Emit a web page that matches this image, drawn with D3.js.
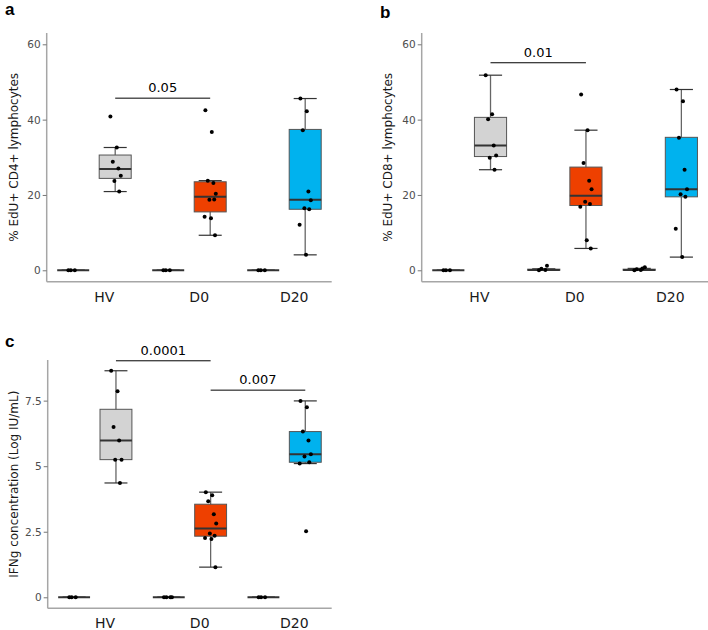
<!DOCTYPE html>
<html>
<head>
<meta charset="utf-8">
<script src="https://cdn.jsdelivr.net/npm/d3@7"></script>
<style>
  body { margin: 0; background: #fff; }
  svg { display: block; font-family: "DejaVu Sans", Verdana, sans-serif; }
</style>
</head>
<body>
<script>
const groups = ["HV", "D0", "D20"];
const fills = ["#d3d3d3", "#ee4000", "#00b2ee"];

// a: % EdU+ CD4+ lymphocytes
const cd4Zero = [[0, 0, 0], [0, 0, 0], [0, 0, 0]];
const cd4ZeroBox = [[0, 0, 0, 0, 0], [0, 0, 0, 0, 0], [0, 0, 0, 0, 0]];
const cd4Stim = [
    [40.8, 32.6, 28.8, 27.0, 25.1, 23.7, 20.9],
    [42.5, 36.7, 23.8, 23.2, 20.3, 18.7, 18.8, 14.2, 13.8, 9.3],
    [45.6, 42.2, 37.2, 20.9, 18.6, 16.5, 16.2, 12.1, 4.1]
];
// [low whisker, q1, median, q3, high whisker]
const cd4Box = [[20.9, 24.4, 26.9, 30.6, 32.6], [9.3, 15.5, 19.5, 23.5, 23.8], [4.1, 16.2, 18.7, 37.4, 45.6]];
const cd4Sig = [["HV", "D0", 45.7, "0.05"]];

// b: % EdU+ CD8+ lymphocytes
const cd8Zero = [[0, 0, 0], [0, 0.1, 0.4, 1.2], [0, 0.1, 0.3, 0.5, 0.8]];
const cd8ZeroBox = [[0, 0, 0, 0, 0], [0, 0, 0.1, 0.3, 0.4], [0, 0, 0.1, 0.3, 0.5]];
const cd8Stim = [
    [51.8, 41.4, 40.1, 33.1, 30.5, 29.9, 26.7],
    [46.7, 37.2, 28.5, 23.8, 21.5, 18.2, 17.6, 16.9, 8.0, 5.8],
    [48.0, 44.9, 35.2, 26.7, 21.5, 20.2, 19.5, 11.0, 3.5]
];
const cd8Box = [[26.7, 30.2, 33.1, 40.6, 51.8], [5.8, 17.2, 19.8, 27.4, 37.2], [3.5, 19.5, 21.5, 35.3, 48.0]];
const cd8Sig = [["HV", "D0", 55.1, "0.01"]];

// c: IFNg concentration
const ifnZero = [[0, 0, 0], [0, 0, 0, 0], [0, 0, 0]];
const ifnZeroBox = [[0, 0, 0, 0, 0], [0, 0, 0, 0, 0], [0, 0, 0, 0, 0]];
const ifnStim = [
    [8.64, 7.86, 6.49, 5.98, 5.25, 5.25, 4.36],
    [4.01, 3.89, 3.66, 3.17, 2.81, 2.43, 2.35, 2.26, 2.22, 1.15],
    [7.49, 7.25, 6.32, 5.98, 5.46, 5.37, 5.15, 5.10, 2.52]
];
const ifnBox = [[4.36, 5.25, 5.98, 7.17, 8.64], [1.15, 2.33, 2.62, 3.55, 4.01], [5.10, 5.15, 5.46, 6.32, 7.49]];
const ifnSig = [["HV", "D0", 9.02, "0.0001"], ["D0", "D20", 7.9, "0.007"]];

const ticksAB = [0, 20, 40, 60];
const ticksC = [0, 2.5, 5, 7.5];
const tickLabelsC = ["0", "2.5", "5", "7.5"];

// fixed spread pattern for the dots (fraction of half box)
const spread = [-0.3, 0.1, -0.15, 0.2, 0.35, -0.05, 0.25, -0.35, 0.05, 0.3];

const svg = d3.select("body").append("svg")
    .attr("width", 708)
    .attr("height", 630);

function panel(o) {
    const g = svg.append("g");

    const x = d3.scaleBand()
        .domain(groups)
        .range([o.left, o.right]);

    const sub = d3.scaleBand()
        .domain(["zero", "stim"])
        .range([0, x.bandwidth()])
        .paddingInner(0.238)
        .paddingOuter(0.25);

    const y = d3.scaleLinear()
        .domain(o.domain)
        .range([o.bottom, o.top]);

    const bw = sub.bandwidth();
    const cx = (grp, s) => x(grp) + sub(s) + bw / 2;

    // axes
    g.append("line")
        .attr("x1", o.left).attr("x2", o.left)
        .attr("y1", o.top).attr("y2", o.bottom)
        .attr("stroke", "#a6a6a6").attr("stroke-width", 1.5);
    g.append("line")
        .attr("x1", o.left).attr("x2", o.right)
        .attr("y1", o.bottom).attr("y2", o.bottom)
        .attr("stroke", "#a6a6a6").attr("stroke-width", 1.5);

    const yAxis = g.append("g")
        .attr("transform", "translate(" + o.left + ",0)")
        .call(d3.axisLeft(y).tickValues(o.ticks).tickFormat((d, i) => o.tickLabels[i]).tickSize(4).tickPadding(2));
    yAxis.select(".domain").remove();
    yAxis.selectAll(".tick line").attr("stroke", "#777");
    yAxis.selectAll(".tick text")
        .attr("fill", "#4d4d4d")
        .attr("font-size", "10.5px")
        .attr("font-family", "DejaVu Sans, sans-serif");

    const xAxis = g.append("g")
        .attr("transform", "translate(0," + o.bottom + ")")
        .call(d3.axisBottom(x).tickSize(0).tickPadding(10));
    xAxis.select(".domain").remove();
    xAxis.selectAll(".tick text")
        .attr("fill", "#1a1a1a")
        .attr("dx", 10)
        .attr("font-size", "14px")
        .attr("font-family", "DejaVu Sans, sans-serif");

    // y title
    g.append("text")
        .attr("transform", "translate(" + o.titleX + "," + ((o.top + o.bottom) / 2) + ") rotate(-90)")
        .attr("text-anchor", "middle")
        .attr("font-size", "12px")
        .attr("fill", "#1a1a1a")
        .text(o.title);

    // panel letter
    g.append("text")
        .attr("x", o.letterX).attr("y", o.letterY)
        .attr("font-family", "Liberation Sans, Arial, sans-serif")
        .attr("font-weight", "bold")
        .attr("font-size", "17px")
        .text(o.letter);

    const boxes = [];
    groups.forEach((grp, i) => {
        boxes.push({grp: grp, s: "zero", st: o.zeroBox[i], pts: o.zero[i], fill: "#fff"});
        boxes.push({grp: grp, s: "stim", st: o.box[i], pts: o.stim[i], fill: fills[i]});
    });

    const b = g.selectAll(".box")
        .data(boxes)
        .enter()
        .append("g")
        .attr("class", "box");

    // whiskers
    b.append("line")
        .attr("x1", d => cx(d.grp, d.s)).attr("x2", d => cx(d.grp, d.s))
        .attr("y1", d => y(d.st[0])).attr("y2", d => y(d.st[4]))
        .attr("stroke", "#666").attr("stroke-width", 1.3);
    b.selectAll(".cap")
        .data(d => [0, 4].map(k => ({d: d, v: d.st[k]})))
        .enter()
        .append("line")
        .attr("x1", e => cx(e.d.grp, e.d.s) - bw * 0.36)
        .attr("x2", e => cx(e.d.grp, e.d.s) + bw * 0.36)
        .attr("y1", e => y(e.v)).attr("y2", e => y(e.v))
        .attr("stroke", "#333").attr("stroke-width", 1.2);

    // box
    b.append("rect")
        .attr("x", d => x(d.grp) + sub(d.s))
        .attr("width", bw)
        .attr("y", d => y(d.st[3]))
        .attr("height", d => Math.max(0, y(d.st[1]) - y(d.st[3])))
        .attr("fill", d => d.fill)
        .attr("stroke", "#555")
        .attr("stroke-width", 1);

    // median
    b.append("line")
        .attr("x1", d => x(d.grp) + sub(d.s))
        .attr("x2", d => x(d.grp) + sub(d.s) + bw)
        .attr("y1", d => y(d.st[2])).attr("y2", d => y(d.st[2]))
        .attr("stroke", "#333").attr("stroke-width", 2);

    // dots
    b.selectAll("circle")
        .data(d => d.pts.map((v, k) => ({d: d, v: v, k: k})))
        .enter()
        .append("circle")
        .attr("cx", e => cx(e.d.grp, e.d.s) + spread[e.k % spread.length] * bw * 0.5)
        .attr("cy", e => y(e.v))
        .attr("r", 2)
        .attr("fill", "#000");

    // significance bars
    const sig = g.selectAll(".sig")
        .data(o.sig)
        .enter()
        .append("g")
        .attr("class", "sig");
    sig.append("line")
        .attr("x1", d => cx(d[0], "stim")).attr("x2", d => cx(d[1], "stim"))
        .attr("y1", d => y(d[2])).attr("y2", d => y(d[2]))
        .attr("stroke", "#000").attr("stroke-width", 1);
    sig.append("text")
        .attr("x", d => (cx(d[0], "stim") + cx(d[1], "stim")) / 2)
        .attr("y", d => y(d[2]) - 6)
        .attr("text-anchor", "middle")
        .attr("font-size", "13px")
        .attr("fill", "#000")
        .text(d => d[3]);
}

panel({
    left: 46.7, right: 331.7, top: 33, bottom: 281.7, domain: [-3.03, 63],
    ticks: ticksAB, tickLabels: ticksAB.map(String),
    zero: cd4Zero, zeroBox: cd4ZeroBox, stim: cd4Stim, box: cd4Box, sig: cd4Sig,
    title: "% EdU+ CD4+ lymphocytes", titleX: 17.5, letter: "a", letterX: 5, letterY: 15
});

panel({
    left: 421.7, right: 708, top: 33, bottom: 281.7, domain: [-3.03, 63],
    ticks: ticksAB, tickLabels: ticksAB.map(String),
    zero: cd8Zero, zeroBox: cd8ZeroBox, stim: cd8Stim, box: cd8Box, sig: cd8Sig,
    title: "% EdU+ CD8+ lymphocytes", titleX: 392, letter: "b", letterX: 380, letterY: 18
});

panel({
    left: 47.7, right: 331.7, top: 360, bottom: 608.3, domain: [-0.42, 9.05],
    ticks: ticksC, tickLabels: tickLabelsC,
    zero: ifnZero, zeroBox: ifnZeroBox, stim: ifnStim, box: ifnBox, sig: ifnSig,
    title: "IFNg concentration (Log IU/mL)", titleX: 18, letter: "c", letterX: 5, letterY: 347
});
</script>
</body>
</html>
